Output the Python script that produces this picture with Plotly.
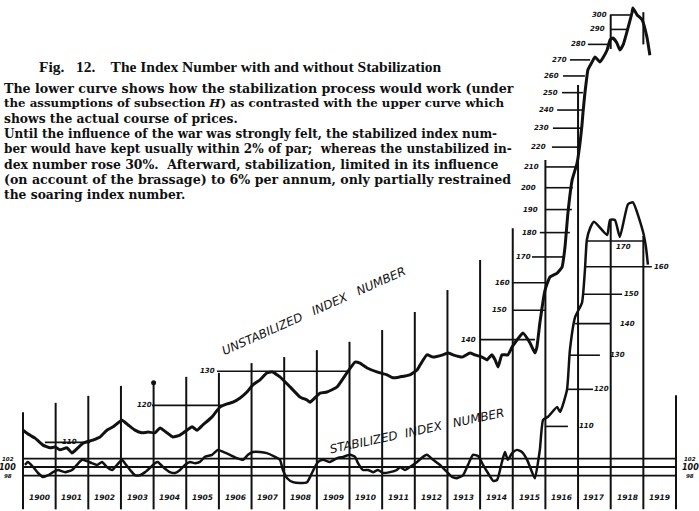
import math
import plotly.graph_objects as go

# ---------------- data ----------------
year_labels = ["1900", "1901", "1902", "1903", "1904", "1905", "1906", "1907", "1908", "1909",
               "1910", "1911", "1912", "1913", "1914", "1915", "1916", "1917", "1918", "1919"]

# Unstabilized index number (actual course of prices)
unstab_t = [1900.00, 1900.21, 1900.37, 1900.61, 1900.83, 1900.98,
            1901.13, 1901.35, 1901.50, 1901.68, 1901.84,
            1902.14, 1902.36, 1902.57, 1902.76,
            1903.03, 1903.22, 1903.43, 1903.64, 1903.83,
            1904.04, 1904.20, 1904.41, 1904.59, 1904.81,
            1905.02, 1905.18, 1905.33, 1905.51, 1905.79,
            1906.03, 1906.25, 1906.43, 1906.65, 1906.86,
            1907.04, 1907.26, 1907.47, 1907.63, 1907.87,
            1908.18, 1908.48, 1908.70, 1908.79,
            1909.10, 1909.31, 1909.62, 1909.92,
            1910.17, 1910.32, 1910.54, 1910.84,
            1911.15, 1911.33, 1911.55, 1911.85,
            1912.07, 1912.16, 1912.37, 1912.56, 1912.86,
            1913.02, 1913.17, 1913.45, 1913.69, 1913.84,
            1914.06, 1914.21, 1914.36, 1914.46, 1914.55, 1914.67, 1914.85, 1914.98,
            1915.13, 1915.31, 1915.53, 1915.68, 1915.74, 1915.83, 1915.99,
            1916.14, 1916.36, 1916.51, 1916.60, 1916.69, 1916.82, 1916.97,
            1917.06, 1917.12, 1917.15, 1917.21, 1917.27, 1917.30, 1917.43, 1917.52,
            1917.67, 1917.76, 1917.89, 1917.98,
            1918.07, 1918.19, 1918.28, 1918.38, 1918.53, 1918.65, 1918.68, 1918.81, 1918.96,
            1919.11, 1919.20]
unstab_v = [113.2, 111.9, 111.1, 109.3, 108.6, 108.8,
            108.1, 108.6, 107.3, 108.6, 109.8,
            110.6, 111.4, 113.2, 114.1,
            115.9, 114.6, 113.2, 112.5, 112.7,
            112.5, 113.8, 112.5, 111.4, 111.9,
            113.2, 114.1, 113.2, 114.6, 116.8,
            119.5, 120.4, 120.9, 122.1, 123.8,
            125.9, 127.4, 129.5, 129.8, 128.3,
            125.3, 122.4, 121.5, 120.9,
            123.5, 123.8, 125.3, 129.5,
            132.8, 132.5, 131.0, 129.8,
            128.9, 128.0, 128.3, 128.9,
            130.4, 131.9, 135.1, 134.4, 135.1,
            135.7, 135.1, 134.4, 135.7, 135.1,
            134.4, 133.5, 135.1, 133.5, 131.3, 135.1, 135.1, 137.6,
            139.9, 142.2, 138.9, 135.7, 137.6, 145.6, 157.3,
            162.2, 163.7, 166.0, 174.0, 188.5, 203.7, 211.9,
            222.1, 231.7, 238.3, 249.8, 259.4, 263.7, 268.7, 271.8,
            268.7, 271.2, 276.3, 282.9,
            284.2, 280.9, 276.3, 279.6, 291.0, 301.4, 304.9, 300.0, 296.7,
            284.8, 272.9]

# Stabilized index number
stab_t = [1900.06, 1900.15, 1900.31, 1900.46, 1900.61, 1900.77, 1900.92,
          1901.07, 1901.29, 1901.50, 1901.65, 1901.81, 1901.96,
          1902.11, 1902.27, 1902.42, 1902.57, 1902.73, 1902.88,
          1903.03, 1903.12, 1903.28, 1903.43, 1903.58, 1903.74, 1903.89,
          1904.04, 1904.13, 1904.29, 1904.50, 1904.66, 1904.81, 1904.96,
          1905.11, 1905.27, 1905.42, 1905.57, 1905.79, 1905.97,
          1906.13, 1906.34, 1906.55, 1906.74, 1906.89,
          1907.04, 1907.26, 1907.47, 1907.72, 1907.87, 1907.96,
          1908.09, 1908.27, 1908.48, 1908.70, 1908.85, 1908.94,
          1909.04, 1909.19, 1909.40, 1909.62, 1909.80,
          1910.02, 1910.17, 1910.26, 1910.41, 1910.57, 1910.72, 1910.87,
          1911.03, 1911.24, 1911.45, 1911.55, 1911.70, 1911.85,
          1912.07, 1912.25, 1912.37, 1912.56, 1912.77, 1912.99,
          1913.14, 1913.29, 1913.48, 1913.63, 1913.78, 1913.94,
          1914.09, 1914.24, 1914.40, 1914.52, 1914.67, 1914.76, 1914.85, 1914.98,
          1915.13, 1915.28, 1915.44, 1915.59, 1915.68, 1915.83, 1915.93,
          1916.08, 1916.36, 1916.45, 1916.66, 1916.75, 1916.91,
          1917.12, 1917.21, 1917.27, 1917.37, 1917.49, 1917.89, 1917.98,
          1918.13, 1918.28, 1918.53, 1918.68, 1918.99,
          1919.08, 1919.14]
stab_v = [100.5, 101.2, 100.0, 98.6, 97.7, 98.1, 98.8,
          99.3, 98.8, 99.3, 100.5, 101.7, 101.4,
          100.9, 100.5, 101.2, 100.0, 99.3, 100.5,
          101.7, 100.9, 99.3, 98.1, 98.1, 98.8, 99.8,
          100.9, 101.2, 100.0, 98.8, 98.6, 99.3, 100.5,
          101.2, 100.9, 101.2, 102.4, 102.9, 104.1,
          103.6, 102.9, 102.1, 101.7, 102.9,
          103.6, 103.6, 103.3, 102.4, 101.7, 99.3,
          97.4, 96.5, 96.3, 96.5, 98.6, 100.0,
          101.2, 101.7, 101.2, 102.1, 102.4,
          102.9, 102.4, 100.9, 99.3, 99.3, 98.8, 99.3,
          98.6, 98.8, 99.3, 100.0, 99.3, 100.0,
          101.2, 102.4, 102.9, 101.7, 100.5, 98.8,
          97.7, 97.4, 98.1, 100.5, 102.9, 102.6,
          100.5, 98.6, 96.8, 97.0, 101.2, 103.6, 101.7, 103.3,
          104.1, 103.6, 101.7, 98.8, 97.4, 104.1, 111.7,
          112.5, 115.1, 113.8, 119.8, 131.6, 142.2,
          147.0, 158.7, 170.5, 175.2, 177.8, 172.4, 178.6,
          178.6, 171.6, 185.3, 186.1, 173.7,
          167.5, 160.8]

# Par band of the stabilized index
par_band = [102, 100, 98]

# Year-boundary rulings: boundary year and height reached (upper-curve scale)
boundary_years = list(range(1900, 1921))
boundary_tops = [118.1, 120.7, 122.7, 125.6, 126.5, 128.3, 129.5, 132.5, 134.4, 136.6,
                 139.3, 143.2, 149.4, 157.3, 168.8, 181.9, 213.5, 254.6, 185.4, 178.6, 122.9]
# short top pieces of the 1918 / 1919 rulings (upper-curve scale)
stub_years = [1918, 1919]
stub_tops = [300.0, 302.0]
stub_bottoms = [277.0, 280.0]

# Scale ladder of the upper (unstabilized) curve
unstab_scale = [110, 120, 130, 140, 150, 160, 170, 180, 190, 200,
                210, 220, 230, 240, 250, 260, 270, 280, 290, 300]
# Scale ladder of the lower (stabilized) curve after 1915
stab_scale = [110, 120, 130, 140, 150, 160, 170]

# ---------------- layout geometry ----------------
W, H = 699, 511
PX_PER_YEAR = 32.65
PX_1900 = 23
PX_PER_DECADE = 980.9                  # vertical ratio-scale calibration
PX_STAB_100 = 467
PX_UNSTAB_100 = 483
X_RANGE = [1900 - PX_1900 / PX_PER_YEAR, 1900 + (W - PX_1900) / PX_PER_YEAR]
Y_STAB_RANGE = [2 - (H - PX_STAB_100) / PX_PER_DECADE, 2 + PX_STAB_100 / PX_PER_DECADE]
Y_UNSTAB_RANGE = [2 - (H - PX_UNSTAB_100) / PX_PER_DECADE, 2 + PX_UNSTAB_100 / PX_PER_DECADE]
RULE_FLOOR = 94.0                       # rulings run down past the year labels


def paper_x(px):
    return px / W


def paper_y(py):
    return 1 - py / H


# ladder tick extents (years) and label positions
unstab_tick_from = [1900.67, 1903.95, 1905.94, 1914.00, 1914.98, 1915.01, 1915.59, 1915.83, 1915.99, 1915.99,
                    1915.99, 1916.20, 1916.23, 1916.36, 1916.51, 1916.54, 1916.75, 1917.30, 1917.98, 1917.98]
unstab_tick_to = [1902.05, 1906.09, 1909.95, 1915.68, 1915.99, 1916.02, 1916.54, 1916.75, 1916.81, 1916.84,
                  1916.91, 1917.00, 1917.12, 1917.12, 1917.15, 1917.21, 1917.37, 1917.92, 1918.53, 1918.59]
unstab_label_x = [1901.41, 1903.71, 1905.64, 1913.63, 1914.58, 1914.70, 1915.34, 1915.50, 1915.53, 1915.47,
                  1915.56, 1915.80, 1915.87, 1916.02, 1916.17, 1916.20, 1916.42, 1917.00, 1917.61, 1917.67]
stab_tick_from = [1915.99, 1916.66, 1916.75, 1916.91, 1917.15, 1917.21, 1917.27]
stab_tick_to = [1916.69, 1917.46, 1917.67, 1917.98, 1918.35, 1919.26, 1918.99]
stab_label_x = [1917.27, 1917.73, 1918.22, 1918.50, 1918.65, 1919.57, 1918.38]

INK = "#111111"
HAND = "DejaVu Sans"

fig = go.Figure()


def segs(x0s, x1s, y0s, y1s):
    xs, ys = [], []
    for a, b, c, d in zip(x0s, x1s, y0s, y1s):
        xs += [a, b, None]
        ys += [c, d, None]
    return xs, ys


# vertical year rulings
vx, vy = segs(boundary_years, boundary_years, [RULE_FLOOR] * len(boundary_years), boundary_tops)
sx2, sy2 = segs(stub_years, stub_years, stub_bottoms, stub_tops)
fig.add_trace(go.Scatter(x=vx + sx2, y=vy + sy2, mode="lines", yaxis="y2",
                         line=dict(color=INK, width=2), hoverinfo="skip"))
# blot at the top of the 1904 ruling
fig.add_trace(go.Scatter(x=[1904], y=[boundary_tops[4]], mode="markers", yaxis="y2",
                         marker=dict(color=INK, size=5), hoverinfo="skip"))

# upper-curve ladder ticks
ux, uy = segs(unstab_tick_from, unstab_tick_to, unstab_scale, unstab_scale)
fig.add_trace(go.Scatter(x=ux, y=uy, mode="lines", yaxis="y2",
                         line=dict(color=INK, width=1.6), hoverinfo="skip"))

# lower-curve ladder ticks
sx, sy = segs(stab_tick_from, stab_tick_to, stab_scale, stab_scale)
fig.add_trace(go.Scatter(x=sx, y=sy, mode="lines", yaxis="y",
                         line=dict(color=INK, width=1.6), hoverinfo="skip"))

# par band 102 / 100 / 98
px_, py_ = segs([1900] * 3, [1920] * 3, par_band, par_band)
fig.add_trace(go.Scatter(x=px_, y=py_, mode="lines", yaxis="y",
                         line=dict(color=INK, width=1.8), hoverinfo="skip"))

# the two curves
fig.add_trace(go.Scatter(x=unstab_t, y=unstab_v, mode="lines", yaxis="y2",
                         line=dict(color=INK, width=3, shape="spline", smoothing=0.4),
                         hoverinfo="skip"))
fig.add_trace(go.Scatter(x=stab_t, y=stab_v, mode="lines", yaxis="y",
                         line=dict(color=INK, width=2.5, shape="spline", smoothing=0.5),
                         hoverinfo="skip"))

ann = []
# ladder labels
for v, xl in zip(unstab_scale, unstab_label_x):
    ann.append(dict(x=xl, y=math.log10(v), xref="x", yref="y2", text=f"<b><i>{v}</i></b>",
                    xanchor="center", yanchor="middle",
                    showarrow=False, font=dict(family=HAND, size=7, color=INK)))
for v, xl in zip(stab_scale, stab_label_x):
    ann.append(dict(x=xl, y=math.log10(v), xref="x", yref="y", text=f"<b><i>{v}</i></b>",
                    xanchor="center", yanchor="middle",
                    showarrow=False, font=dict(family=HAND, size=7, color=INK),
                    yshift=-6 if v == 170 else 0))
# par band labels both sides
for side_x in (1899.54, 1920.43):
    for v in par_band:
        ann.append(dict(x=side_x, y=math.log10(v), xref="x", yref="y",
                        text=f"<b><i>{v}</i></b>", showarrow=False,
                        xanchor="center", yanchor="middle",
                        font=dict(family=HAND, size=8 if v == 100 else 5.5, color=INK)))
# year labels
for i, lab in enumerate(year_labels):
    ann.append(dict(x=1900 + i + 0.5, y=paper_y(497), xref="x", yref="paper",
                    text=f"<b><i>{lab}</i></b>", showarrow=False,
                    xanchor="center", yanchor="middle",
                    font=dict(family=HAND, size=7.5, color=INK)))

# curve names
ann.append(dict(x=paper_x(314), y=paper_y(311), xref="paper", yref="paper",
                xanchor="center", yanchor="middle",
                text="<i>UNSTABILIZED&nbsp;&nbsp; INDEX&nbsp;&nbsp; NUMBER</i>",
                textangle=-24, showarrow=False,
                font=dict(family=HAND, size=12, color=INK)))
ann.append(dict(x=paper_x(417), y=paper_y(431), xref="paper", yref="paper",
                xanchor="center", yanchor="middle",
                text="<i>STABILIZED&nbsp; INDEX&nbsp;&nbsp; NUMBER</i>",
                textangle=-12, showarrow=False,
                font=dict(family=HAND, size=12, color=INK)))

# caption
ann.append(dict(x=paper_x(37), y=paper_y(66), xref="paper", yref="paper",
                xanchor="left", yanchor="middle",
                text="<b>Fig.&nbsp;&nbsp; 12.&nbsp;&nbsp;&nbsp; The Index Number with and without Stabilization</b>",
                showarrow=False, font=dict(family="Liberation Serif", size=15.5, color=INK)))
body = [
    "The lower curve shows how the stabilization process would work (under",
    "the assumptions of subsection <i>H</i>) as contrasted with the upper curve which",
    "shows the actual course of prices.",
    "Until the influence of the war was strongly felt, the stabilized index num-",
    "ber would have kept usually within 2% of par;  whereas the unstabilized in-",
    "dex number rose 30%.  Afterward, stabilization, limited in its influence",
    "(on account of the brassage) to 6% per annum, only partially restrained",
    "the soaring index number.",
]
# per-line sizes imitate the justified setting of the printed caption
body_sizes = [12.65, 11.8, 12.3, 12.0, 12.05, 12.45, 12.6, 12.3]
for k, (line, fs) in enumerate(zip(body, body_sizes)):
    ann.append(dict(x=paper_x(2), y=paper_y(88 + 15.2 * k), xref="paper", yref="paper",
                    xanchor="left", yanchor="middle",
                    text=f"<b>{line}</b>", showarrow=False,
                    font=dict(family="DejaVu Serif", size=fs, color=INK)))

fig.update_layout(
    width=W, height=H, margin=dict(l=0, r=0, t=0, b=0),
    paper_bgcolor="white", plot_bgcolor="white", showlegend=False,
    hovermode=False,
    xaxis=dict(range=X_RANGE, visible=False, showgrid=False, zeroline=False),
    yaxis=dict(type="log", range=Y_STAB_RANGE, visible=False, showgrid=False, zeroline=False),
    yaxis2=dict(type="log", range=Y_UNSTAB_RANGE, overlaying="y", visible=False,
                showgrid=False, zeroline=False),
    annotations=ann,
)

# let the figure sit flush with the window corner (no default page margin)
fig.write_html("out.html", config={"displayModeBar": False},
               post_script="document.body.style.margin='0px';document.body.style.padding='0px';")
